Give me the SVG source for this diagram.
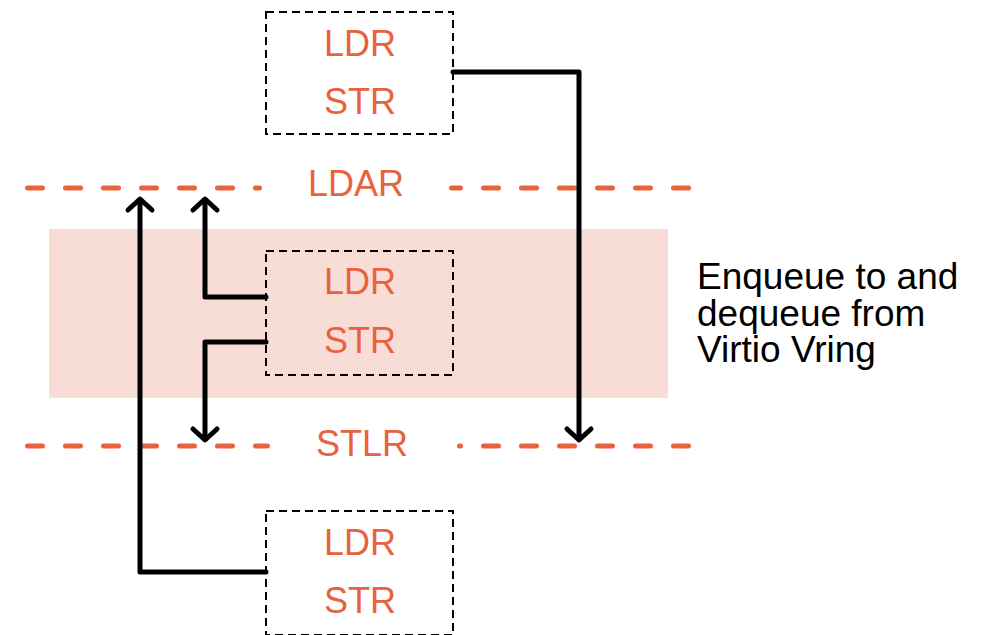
<svg xmlns="http://www.w3.org/2000/svg" width="987" height="635" viewBox="0 0 987 635">
<style>
.box{fill:none;stroke:#000;stroke-width:2;stroke-dasharray:8 5}
.lbl{font-family:"Liberation Sans",Arial,sans-serif;font-size:36px;fill:#E8623D;text-anchor:middle}
.note{font-family:"Liberation Sans",Arial,sans-serif;font-size:37px;fill:#000}
.dl{fill:none;stroke:#E8623D;stroke-width:5;stroke-linecap:round;stroke-dasharray:15 23}
.cn{fill:none;stroke:#000;stroke-width:5;stroke-linecap:round;stroke-linejoin:round}
</style>
<defs>
<marker id="ah" markerUnits="userSpaceOnUse" markerWidth="40" markerHeight="40" viewBox="-20 -20 40 40" refX="-3" refY="0" orient="auto" overflow="visible">
<path d="M-11,-12 L0,0 L-11,12" fill="none" stroke="#000" stroke-width="5" stroke-linecap="round" stroke-linejoin="round"/>
</marker>
</defs>
<rect id="band" x="49" y="229" width="619" height="169" fill="#F8DDD7"/>
<g id="ldar-line">
<path class="dl" d="M27.5 188 H259.5"/>
<path class="dl" d="M451.5 188 H688.5" stroke-dashoffset="6"/>
<text class="lbl" x="356" y="196">LDAR</text>
</g>
<g id="stlr-line">
<path class="dl" d="M27.5 446 H267.5"/>
<path class="dl" d="M459.5 446 H688.5" stroke-dashoffset="14"/>
<text class="lbl" x="362" y="456">STLR</text>
</g>
<g id="box-top">
<rect class="box" x="266" y="12" width="187" height="122"/>
<text class="lbl" x="360" y="56">LDR</text>
<text class="lbl" x="360" y="114">STR</text>
</g>
<g id="box-mid">
<rect class="box" x="266" y="251" width="187" height="124"/>
<text class="lbl" x="360" y="294">LDR</text>
<text class="lbl" x="360" y="353">STR</text>
</g>
<g id="box-bot">
<rect class="box" x="266" y="511" width="187" height="124"/>
<text class="lbl" x="360" y="555">LDR</text>
<text class="lbl" x="360" y="613">STR</text>
</g>
<g id="note">
<text class="note" x="697" y="289">Enqueue to and</text>
<text class="note" x="697" y="326">dequeue from</text>
<text class="note" x="697" y="362">Virtio Vring</text>
</g>
<g id="connectors">
<path class="cn" d="M453 72 H579 V437" marker-end="url(#ah)"/>
<path class="cn" d="M266 572 H140 V202" marker-end="url(#ah)"/>
<path class="cn" d="M266 297 H205 V202" marker-end="url(#ah)"/>
<path class="cn" d="M266 342 H205 V437" marker-end="url(#ah)"/>
</g>
</svg>
